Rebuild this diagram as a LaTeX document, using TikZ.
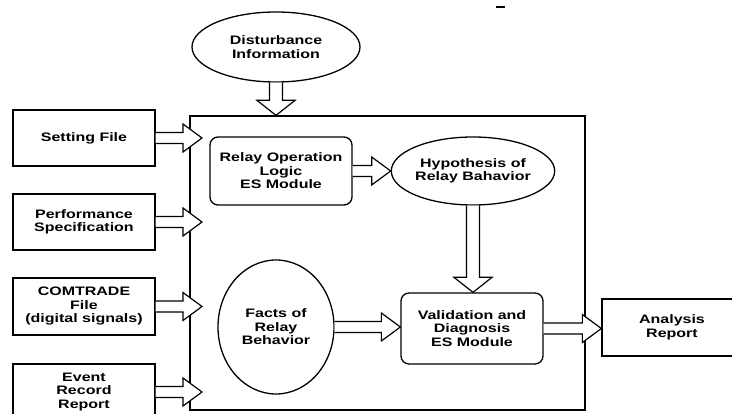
\documentclass[tikz,border=0pt]{standalone}
\usepackage{fontspec}
\setmainfont{Liberation Sans}[FakeStretch=1.3]
\usetikzlibrary{calc,shapes.geometric}

\tikzset{
  base/.style={draw, line width=1.3pt, align=center, inner sep=0pt,
    font=\fontsize{12.3}{13.5}\selectfont\bfseries},
  inbox/.style={base, rectangle, minimum width=142pt, minimum height=56pt},
  module/.style={base, rectangle, rounded corners=8pt, minimum width=142pt},
  oval/.style={base, ellipse},
  frame/.style={draw, line width=1.3pt},
  % hollow block arrow pointing right
  hblock/.style={line width=1.2pt, fill=white, to path={
    ($(\tikztostart)+(0,-5.5)$) -- ($(\tikztotarget)+(-19,-5.5)$)
    -- ($(\tikztotarget)+(-19,-14)$) -- (\tikztotarget)
    -- ($(\tikztotarget)+(-19,14)$) -- ($(\tikztotarget)+(-19,5.5)$)
    -- ($(\tikztostart)+(0,5.5)$)}},
  % hollow block arrow pointing down
  vblock/.style={line width=1.2pt, fill=white, to path={
    ($(\tikztostart)+(-6.5,0)$) -- ($(\tikztotarget)+(-6.5,-15)$)
    -- ($(\tikztotarget)+(-19,-15)$) -- (\tikztotarget)
    -- ($(\tikztotarget)+(19,-15)$) -- ($(\tikztotarget)+(6.5,-15)$)
    -- ($(\tikztostart)+(6.5,0)$)}},
}

\begin{document}
\begin{tikzpicture}[x=1pt, y=-1pt]
  \fill[white] (0,0) rectangle (732,414);
  \clip (0,0) rectangle (732,414);

  % enclosing system frame
  \node[frame, minimum width=395pt, minimum height=294pt, inner sep=0pt] (main) at (387.5,263) {};

  % external inputs
  \node[oval, minimum width=168pt, minimum height=70pt] (dist) at (276,47) {Disturbance\\Information};
  \node[inbox] (set)   at (84,138)   {Setting File};
  \node[inbox] (perf)  at (84,222)   {Performance\\Specification};
  \node[inbox, minimum height=57pt] (com) at (84,306.5) {COMTRADE\\File\\(digital signals)};
  \node[inbox] (event) at (84,392)   {Event\\Record\\Report};

  % inner modules
  \node[module, minimum height=68pt] (relay) at (281,171) {Relay Operation\\Logic\\ES Module};
  \node[oval, minimum width=150pt, minimum height=68pt] (hyp) at (473,171) {Hypothesis of\\Relay Bahavior};
  \node[oval, minimum width=116pt, minimum height=134pt] (facts) at (276,327) {Facts of\\Relay\\Behavior};
  \node[module, minimum height=71pt] (valid) at (472,328.5) {Validation and\\Diagnosis\\ES Module};

  % output
  \node[inbox, minimum width=140pt, minimum height=57pt] (report) at (672,327.5) {Analysis\\Report};

  % tip line for the input arrows, just inside the frame
  \coordinate (tipL) at (202,0);

  % connectors
  \draw[vblock] (dist.south) to (dist.south |- main.north);
  \draw[hblock] (set.east)   to (set.east -| tipL);
  \draw[hblock] (perf.east)  to (perf.east -| tipL);
  \draw[hblock] (com.east)   to (com.east -| tipL);
  \draw[hblock] (event.east) to (event.east -| tipL);
  \draw[hblock] (relay.east) to (hyp.west);
  \draw[vblock] (hyp.south)  to (hyp.south |- valid.north);
  \draw[hblock] (facts.east) to (facts.east -| valid.west);
  \draw[hblock] (valid.east) to (valid.east -| report.west);

  % small mark near the top edge
  \draw[line width=2pt] (496,7) -- (505,7);
\end{tikzpicture}
\end{document}
